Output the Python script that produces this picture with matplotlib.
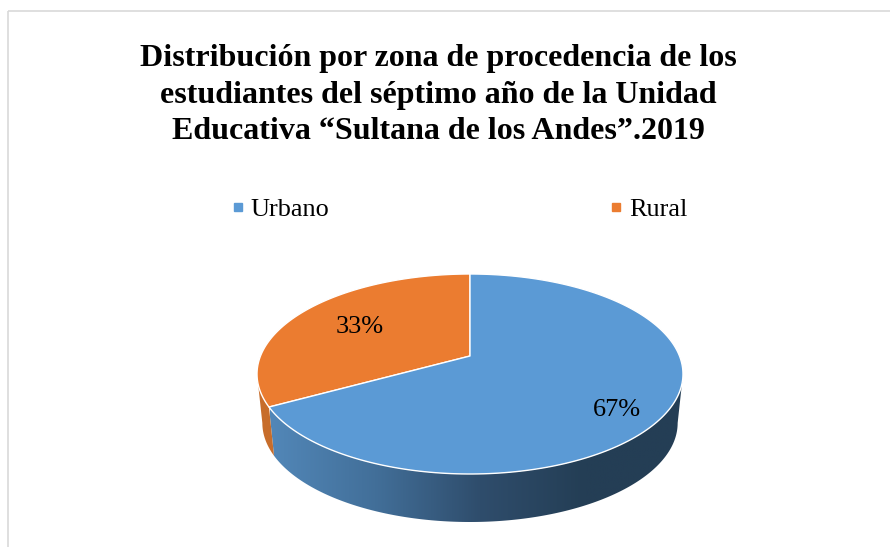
import numpy as np
import matplotlib
matplotlib.use("Agg")
import matplotlib.pyplot as plt
from matplotlib.colors import LinearSegmentedColormap
from matplotlib.lines import Line2D
from matplotlib.patches import Polygon, Rectangle

plt.rcParams['font.family'] = ['Liberation Serif', 'DejaVu Serif']

# datos
categories = ["Urbano", "Rural"]
values = [67, 33]
title = ("Distribución por zona de procedencia de los\n"
         "estudiantes del séptimo año de la Unidad\n"
         "Educativa “Sultana de los Andes”.2019")

top_colors = ["#5B9AD5", "#EB7C30"]
wall_orange = "#C76D2B"
wall_stops = ["#5287B8", "#426F99", "#2F4D6C", "#243E55", "#243E55"]


# perspectiva del disco: circulo unitario -> pixeles de la figura
def project(phi, cx=470, cy=374, sx=1.0, sy=1.0):
    k = 0.18
    x = np.cos(phi)
    y = np.sin(phi)
    d = 1 + k * y
    return cx + sx * 209.5 * x / d, cy - sy * (100 * y + 18) / d


def rim(a, b):
    return np.array(project(np.linspace(a, b, 200))).T


def bottom_rim(a, b):
    return np.array(project(np.linspace(a, b, 200), cy=423, sx=0.975, sy=0.99)).T


fig = plt.figure(figsize=(8.9, 5.47), dpi=100)
ax = fig.add_axes([0, 0, 1, 1])

# marco del grafico (solo se ve arriba y a la izquierda)
ax.add_patch(Rectangle((8, 11), 1000, 700, fill=False, ec="#D9D9D9", lw=1.2))

# angulos de las porciones, en sentido horario desde arriba
start = np.pi / 2
end_urbano = start - 2 * np.pi * values[0] / sum(values)
end_rural = end_urbano - 2 * np.pi * values[1] / sum(values)
apex = project(np.array([0.0]), cx=470)
apex = (apex[0][0] - 209.5, apex[1][0])

# pared lateral azul con degradado
right_end = np.radians(-10.4)
wall = np.vstack([rim(end_urbano, right_end), bottom_rim(right_end, end_urbano)])
wall_patch = Polygon(wall, closed=True, fc="none", ec="none")
ax.add_patch(wall_patch)
cmap = LinearSegmentedColormap.from_list("pared", wall_stops)
im = ax.imshow(np.linspace(0, 1, 256)[None, :], extent=[270, 690, 530, 370],
               aspect="auto", cmap=cmap, zorder=1)
im.set_clip_path(wall_patch)

# pared lateral naranja
left_end = np.radians(-169.6)
orange = np.vstack([rim(end_urbano, left_end), bottom_rim(left_end, end_urbano)])
ax.add_patch(Polygon(orange, closed=True, fc=wall_orange, ec="none", zorder=1))

# caras superiores
urbano = np.vstack([[apex], rim(start, end_urbano)])
rural = np.vstack([[apex], rim(end_urbano, end_rural)])
for pts, c in zip([rural, urbano], [top_colors[1], top_colors[0]]):
    ax.add_patch(Polygon(pts, closed=True, fc=c, ec="white", lw=1.0,
                         joinstyle="round", zorder=2))

# etiquetas de porcentaje
ax.text(617, 410, f"{values[0]}%", ha="center", va="center", fontsize=18.9, color="black", zorder=3)
ax.text(360, 327, f"{values[1]}%", ha="center", va="center", fontsize=18.9, color="black", zorder=3)

# titulo
ax.text(438, 95, title, ha="center", va="center", fontsize=23, fontweight="bold",
        linespacing=1.33, color="black")

# leyenda
handles = [Line2D([], [], ls="", marker="s", ms=5.6, color=c) for c in top_colors]
ax.legend(handles, categories, loc="center", bbox_to_anchor=(458.5, 209),
          bbox_transform=ax.transData, ncol=2, frameon=False, fontsize=18.9,
          columnspacing=10.61, handlelength=0.6, handletextpad=0.2)

ax.set_xlim(0, 890)
ax.set_ylim(547, 0)
ax.axis("off")

fig.savefig("out.png", dpi=100, facecolor="white")
